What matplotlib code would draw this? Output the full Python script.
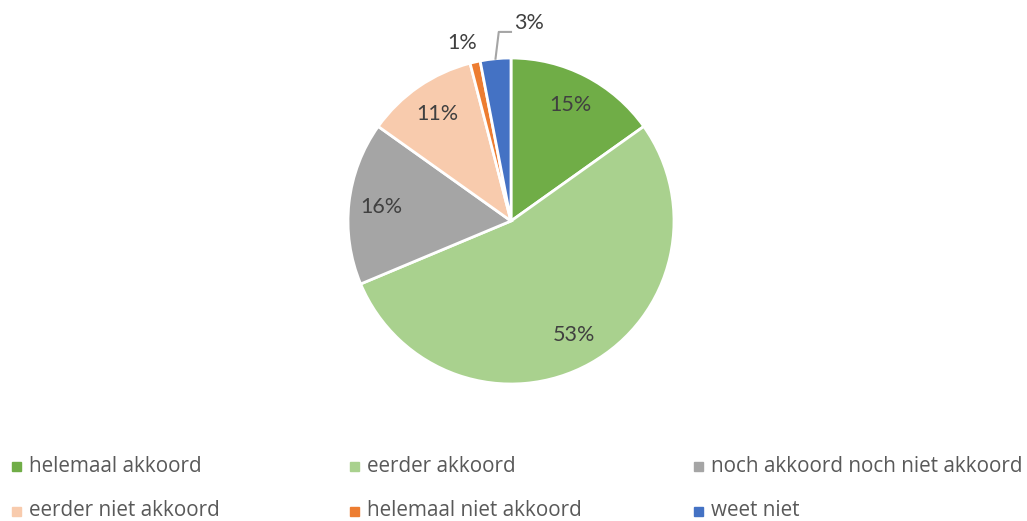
import numpy as np
import matplotlib.pyplot as plt
from matplotlib.patches import Rectangle

# survey answers, shares in percent
labels = ['helemaal akkoord', 'eerder akkoord', 'noch akkoord noch niet akkoord',
          'eerder niet akkoord', 'helemaal niet akkoord', 'weet niet']
values = [15, 53, 16, 11, 1, 3]
colors = ['#70AD47', '#A9D18E', '#A5A5A5', '#F8CBAD', '#ED7D31', '#4472C4']

W, H = 1027, 521
fig = plt.figure(figsize=(W / 100, H / 100), dpi=100)

# pie centre and radius in pixels
cx, cy, r = 511, 221, 163
ax = fig.add_axes([(cx - r) / W, (H - cy - r) / H, 2 * r / W, 2 * r / H])

wedges, _ = ax.pie(values, colors=colors, startangle=90, counterclock=False,
                   radius=1, wedgeprops=dict(edgecolor='white', linewidth=2))
ax.set_xlim(-1, 1)
ax.set_ylim(-1, 1)
ax.set_aspect('equal')
ax.axis('off')

pct_font = dict(family='Lato', fontsize=15.5, color='#404040')
for w, v in zip(wedges, values):
    mid = np.deg2rad((w.theta1 + w.theta2) / 2)
    if v >= 5:
        ax.text(0.8 * np.cos(mid), 0.8 * np.sin(mid), f'{v}%',
                ha='center', va='center', **pct_font)

# small slices get labels outside
w1, w3 = wedges[4], wedges[5]
m1 = np.deg2rad((w1.theta1 + w1.theta2) / 2)
ax.text(1.10 * np.cos(m1) - 0.06, 1.10 * np.sin(m1) + 0.02, '1%',
        ha='center', va='center', clip_on=False, **pct_font)
m3 = np.deg2rad((w3.theta1 + w3.theta2) / 2)
x0, y0 = np.cos(m3), np.sin(m3)
ax.plot([x0, x0 + 0.02, 0.0], [y0, 1.16, 1.16], color='#A5A5A5', lw=1.5,
        clip_on=False)
ax.text(0.02, 1.215, '3%', ha='left', va='center', clip_on=False, **pct_font)

# legend laid out in a 3 x 2 grid
col_x = [12, 350, 694]
row_y = [466, 511]
for i, (lab, col) in enumerate(zip(labels, colors)):
    x = col_x[i % 3]
    y = row_y[i // 3]
    fig.add_artist(Rectangle((x / W, (H - y - 4.5) / H), 9 / W, 9 / H,
                             transform=fig.transFigure, color=col))
    fig.text((x + 17) / W, (H - y) / H, lab, ha='left', va='center',
             family='Open Sans', fontsize=14.9, color='#595959')

fig.savefig('out.png', dpi=100)
